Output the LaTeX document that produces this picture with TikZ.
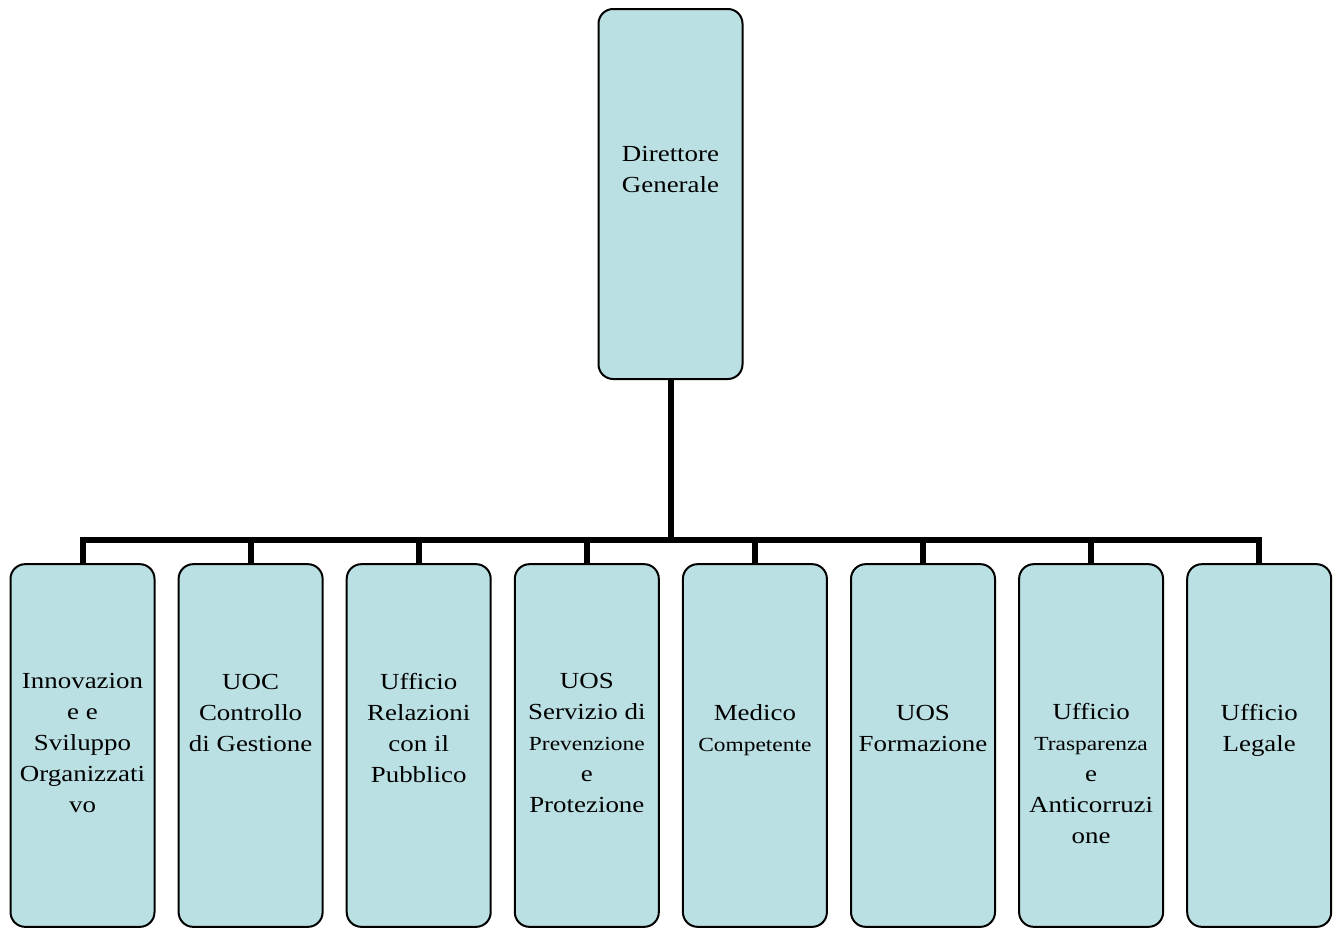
\documentclass[tikz,border=0pt]{standalone}
\usepackage{fontspec}
\setmainfont{Liberation Serif}[FakeStretch=1.17]
\definecolor{boxfill}{RGB}{187,224,227}
\tikzset{
  unitbox/.style={draw=black, line width=1.5pt, fill=boxfill, rounded corners=11pt,
    minimum width=108pt, minimum height=272pt, inner sep=0pt},
  lbl/.style={align=center, font=\fontsize{17.25}{23.1}\selectfont, inner sep=0pt, anchor=base},
  conn/.style={line width=4.5pt, line join=miter}
}
\newcommand{\smw}[1]{{\fontsize{15}{23.1}\selectfont #1}}
\begin{document}
\begin{tikzpicture}[x=0.75pt,y=-0.75pt]
\useasboundingbox (0,0) rectangle (1337,928);
% top box
\node[unitbox, minimum height=277.5pt] (top) at (670.5,194) {};
% bottom boxes
\node[unitbox] (b1) at (82.5,745.5) {};
\node[unitbox] (b2) at (250.6,745.5) {};
\node[unitbox] (b3) at (418.7,745.5) {};
\node[unitbox] (b4) at (586.8,745.5) {};
\node[unitbox] (b5) at (754.9,745.5) {};
\node[unitbox] (b6) at (923.0,745.5) {};
\node[unitbox] (b7) at (1091.1,745.5) {};
\node[unitbox] (b8) at (1259.2,745.5) {};
% labels (anchor = baseline of the last line)
\node[lbl] (t0) at (670.5,192) {Direttore\\Generale};
\node[lbl] (t1) at (82.5,812) {Innovazion\\e e\\Sviluppo\\Organizzati\\vo};
\node[lbl] (t2) at (250.6,751) {UOC\\Controllo\\di Gestione};
\node[lbl] (t3) at (418.7,782) {Ufficio\\Relazioni\\con il\\Pubblico};
\node[lbl] (t4) at (586.8,812) {UOS\\Servizio di\\\smw{Prevenzione}\\e\\Protezione};
\node[lbl] (t5) at (754.9,751) {Medico\\\smw{Competente}};
\node[lbl] (t6) at (923.0,751) {UOS\\Formazione};
\node[lbl] (t7) at (1091.1,843) {Ufficio\\\smw{Trasparenza}\\e\\Anticorruzi\\one};
\node[lbl] (t8) at (1259.2,751) {Ufficio\\Legale};
% connectors
\coordinate (bus) at (670.5,540);
\draw[conn] (top.south) -- (bus);
\draw[conn] (b1.north) -- (b1.north |- bus) -- (b8.north |- bus) -- (b8.north);
\foreach \i in {2,...,7}{
  \draw[conn] (b\i.north |- bus) -- (b\i.north);
}
\end{tikzpicture}
\end{document}
